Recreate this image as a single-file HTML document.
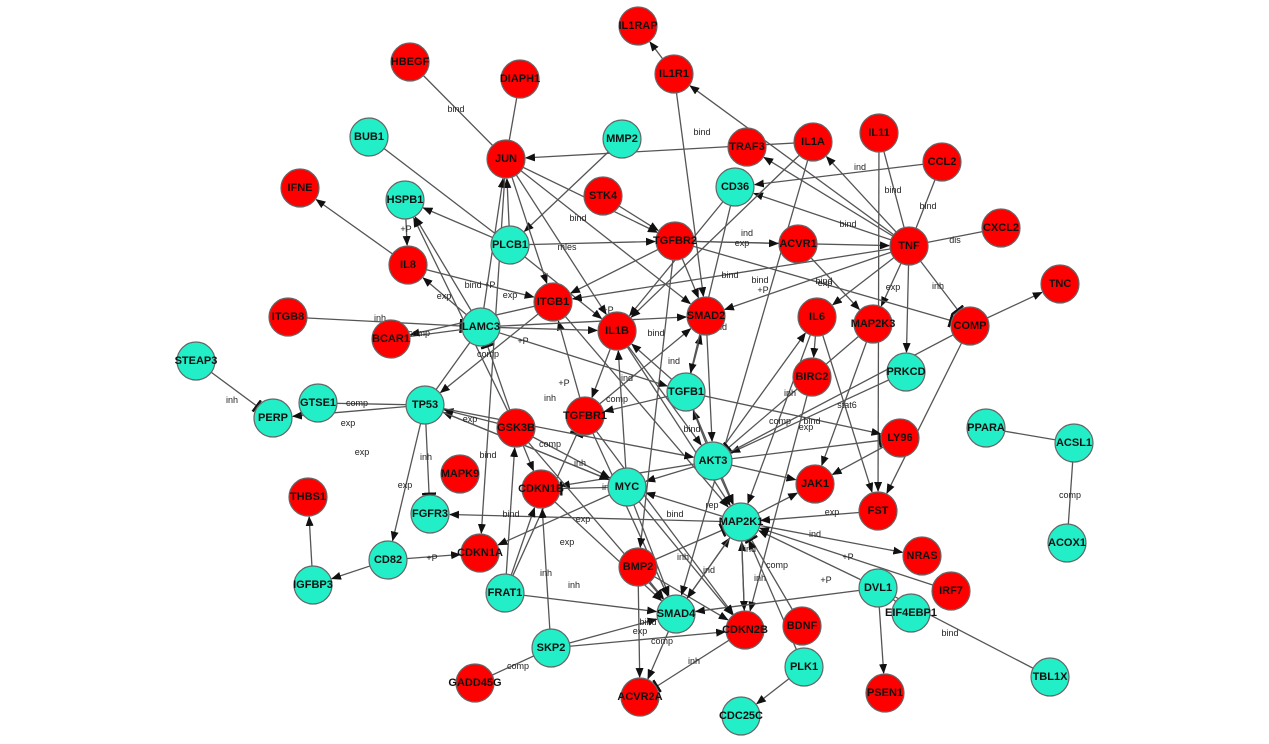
<!DOCTYPE html>
<html><head><meta charset="utf-8"><style>
body{margin:0;background:#fff;width:1269px;height:744px;overflow:hidden}
svg{display:block}
.n text{font:bold 11px "Liberation Sans",sans-serif;fill:#111;text-anchor:middle;dominant-baseline:central}
.r circle{fill:#f00;stroke:#666;stroke-width:1.2}
.c circle{fill:#22eec8;stroke:#666;stroke-width:1.2}
.l{font:9px "Liberation Sans",sans-serif;fill:#222;text-anchor:middle}
#E line{stroke:#555;stroke-width:1.3}
</style></head><body>
<svg id="S" width="1269" height="744" xmlns="http://www.w3.org/2000/svg">
<defs>
<marker id="a" markerWidth="10" markerHeight="8" refX="9" refY="4" orient="auto" markerUnits="userSpaceOnUse"><path d="M0,0L10,4L0,8z" fill="#111"/></marker>
<marker id="t" markerWidth="3" markerHeight="14" refX="1.5" refY="7" orient="auto" markerUnits="userSpaceOnUse"><rect width="2.5" height="14" fill="#111"/></marker>
</defs>
<g id="E"></g>
<g>
<text class="l" x="456" y="112">bind</text><text class="l" x="702" y="135">bind</text>
<text class="l" x="860" y="170">ind</text><text class="l" x="893" y="193">bind</text><text class="l" x="928" y="209">bind</text>
<text class="l" x="848" y="227">bind</text><text class="l" x="955" y="243">dis</text><text class="l" x="938" y="289">inh</text>
<text class="l" x="893" y="290">exp</text><text class="l" x="406" y="232">+P</text><text class="l" x="567" y="250">mles</text>
<text class="l" x="578" y="221">bind</text><text class="l" x="747" y="236">ind</text><text class="l" x="742" y="246">exp</text>
<text class="l" x="730" y="278">bind</text><text class="l" x="760" y="283">bind</text><text class="l" x="763" y="293">+P</text>
<text class="l" x="824" y="284">bind</text><text class="l" x="825" y="286">exp</text><text class="l" x="480" y="288">bind +P</text>
<text class="l" x="444" y="299">exp</text><text class="l" x="510" y="298">exp</text><text class="l" x="380" y="321">inh</text>
<text class="l" x="419" y="336">comp</text><text class="l" x="488" y="357">comp</text><text class="l" x="523" y="344">+P</text>
<text class="l" x="608" y="313">+P</text><text class="l" x="656" y="336">bind</text><text class="l" x="722" y="330">nd</text>
<text class="l" x="674" y="364">ind</text><text class="l" x="564" y="386">+P</text><text class="l" x="550" y="401">inh</text>
<text class="l" x="617" y="402">comp</text><text class="l" x="627" y="381">ind</text><text class="l" x="232" y="403">inh</text>
<text class="l" x="357" y="406">comp</text><text class="l" x="348" y="426">exp</text><text class="l" x="470" y="422">exp</text>
<text class="l" x="362" y="455">exp</text><text class="l" x="426" y="460">inh</text><text class="l" x="405" y="488">exp</text>
<text class="l" x="488" y="458">bind</text><text class="l" x="511" y="428">exp</text><text class="l" x="550" y="447">comp</text>
<text class="l" x="580" y="466">inh</text><text class="l" x="608" y="490">inh</text><text class="l" x="790" y="396">inh</text>
<text class="l" x="780" y="424">comp</text><text class="l" x="812" y="424">bind</text><text class="l" x="806" y="430">exp</text>
<text class="l" x="847" y="408">stat6</text><text class="l" x="692" y="432">bind</text><text class="l" x="675" y="517">bind</text>
<text class="l" x="712" y="508">rep</text><text class="l" x="511" y="517">bind</text><text class="l" x="583" y="522">exp</text>
<text class="l" x="567" y="545">exp</text><text class="l" x="546" y="576">inh</text><text class="l" x="574" y="588">inh</text>
<text class="l" x="683" y="560">inh</text><text class="l" x="709" y="573">ind</text><text class="l" x="750" y="552">ind</text>
<text class="l" x="777" y="568">comp</text><text class="l" x="760" y="581">inh</text><text class="l" x="826" y="583">+P</text>
<text class="l" x="815" y="537">ind</text><text class="l" x="832" y="515">exp</text><text class="l" x="848" y="560">+P</text>
<text class="l" x="432" y="561">+P</text><text class="l" x="648" y="625">bind</text><text class="l" x="640" y="634">exp</text>
<text class="l" x="662" y="644">comp</text><text class="l" x="518" y="669">comp</text><text class="l" x="694" y="664">inh</text>
<text class="l" x="950" y="636">bind</text><text class="l" x="1070" y="498">comp</text>
</g>
<g id="N">
<g class="n r"><circle cx="638" cy="26" r="19"/><text x="638" y="26">IL1RAP</text></g>
<g class="n r"><circle cx="410" cy="62" r="19"/><text x="410" y="62">HBEGF</text></g>
<g class="n r"><circle cx="520" cy="79" r="19"/><text x="520" y="79">DIAPH1</text></g>
<g class="n r"><circle cx="674" cy="74" r="19"/><text x="674" y="74">IL1R1</text></g>
<g class="n r"><circle cx="506" cy="159" r="19"/><text x="506" y="159">JUN</text></g>
<g class="n r"><circle cx="747" cy="147" r="19"/><text x="747" y="147">TRAF3</text></g>
<g class="n r"><circle cx="813" cy="142" r="19"/><text x="813" y="142">IL1A</text></g>
<g class="n r"><circle cx="879" cy="133" r="19"/><text x="879" y="133">IL11</text></g>
<g class="n r"><circle cx="942" cy="162" r="19"/><text x="942" y="162">CCL2</text></g>
<g class="n r"><circle cx="300" cy="188" r="19"/><text x="300" y="188">IFNE</text></g>
<g class="n r"><circle cx="603" cy="196" r="19"/><text x="603" y="196">STK4</text></g>
<g class="n r"><circle cx="675" cy="241" r="19"/><text x="675" y="241">TGFBR2</text></g>
<g class="n r"><circle cx="798" cy="244" r="19"/><text x="798" y="244">ACVR1</text></g>
<g class="n r"><circle cx="909" cy="246" r="19"/><text x="909" y="246">TNF</text></g>
<g class="n r"><circle cx="1001" cy="228" r="19"/><text x="1001" y="228">CXCL2</text></g>
<g class="n r"><circle cx="408" cy="265" r="19"/><text x="408" y="265">IL8</text></g>
<g class="n r"><circle cx="1060" cy="284" r="19"/><text x="1060" y="284">TNC</text></g>
<g class="n r"><circle cx="288" cy="317" r="19"/><text x="288" y="317">ITGB8</text></g>
<g class="n r"><circle cx="553" cy="302" r="19"/><text x="553" y="302">ITGB1</text></g>
<g class="n r"><circle cx="391" cy="339" r="19"/><text x="391" y="339">BCAR1</text></g>
<g class="n r"><circle cx="617" cy="331" r="19"/><text x="617" y="331">IL1B</text></g>
<g class="n r"><circle cx="706" cy="316" r="19"/><text x="706" y="316">SMAD2</text></g>
<g class="n r"><circle cx="817" cy="317" r="19"/><text x="817" y="317">IL6</text></g>
<g class="n r"><circle cx="873" cy="324" r="19"/><text x="873" y="324">MAP2K3</text></g>
<g class="n r"><circle cx="970" cy="326" r="19"/><text x="970" y="326">COMP</text></g>
<g class="n r"><circle cx="812" cy="377" r="19"/><text x="812" y="377">BIRC2</text></g>
<g class="n r"><circle cx="585" cy="416" r="19"/><text x="585" y="416">TGFBR1</text></g>
<g class="n r"><circle cx="516" cy="428" r="19"/><text x="516" y="428">GSK3B</text></g>
<g class="n r"><circle cx="900" cy="438" r="19"/><text x="900" y="438">LY96</text></g>
<g class="n r"><circle cx="460" cy="474" r="19"/><text x="460" y="474">MAPK9</text></g>
<g class="n r"><circle cx="541" cy="489" r="19"/><text x="541" y="489">CDKN1B</text></g>
<g class="n r"><circle cx="815" cy="484" r="19"/><text x="815" y="484">JAK1</text></g>
<g class="n r"><circle cx="878" cy="511" r="19"/><text x="878" y="511">FST</text></g>
<g class="n r"><circle cx="308" cy="497" r="19"/><text x="308" y="497">THBS1</text></g>
<g class="n r"><circle cx="480" cy="553" r="19"/><text x="480" y="553">CDKN1A</text></g>
<g class="n r"><circle cx="638" cy="567" r="19"/><text x="638" y="567">BMP2</text></g>
<g class="n r"><circle cx="922" cy="556" r="19"/><text x="922" y="556">NRAS</text></g>
<g class="n r"><circle cx="951" cy="591" r="19"/><text x="951" y="591">IRF7</text></g>
<g class="n r"><circle cx="745" cy="630" r="19"/><text x="745" y="630">CDKN2B</text></g>
<g class="n r"><circle cx="802" cy="626" r="19"/><text x="802" y="626">BDNF</text></g>
<g class="n r"><circle cx="475" cy="683" r="19"/><text x="475" y="683">GADD45G</text></g>
<g class="n r"><circle cx="640" cy="697" r="19"/><text x="640" y="697">ACVR2A</text></g>
<g class="n r"><circle cx="885" cy="693" r="19"/><text x="885" y="693">PSEN1</text></g>
<g class="n c"><circle cx="369" cy="137" r="19"/><text x="369" y="137">BUB1</text></g>
<g class="n c"><circle cx="622" cy="139" r="19"/><text x="622" y="139">MMP2</text></g>
<g class="n c"><circle cx="735" cy="187" r="19"/><text x="735" y="187">CD36</text></g>
<g class="n c"><circle cx="405" cy="200" r="19"/><text x="405" y="200">HSPB1</text></g>
<g class="n c"><circle cx="510" cy="245" r="19"/><text x="510" y="245">PLCB1</text></g>
<g class="n c"><circle cx="481" cy="327" r="19"/><text x="481" y="327">LAMC3</text></g>
<g class="n c"><circle cx="196" cy="361" r="19"/><text x="196" y="361">STEAP3</text></g>
<g class="n c"><circle cx="906" cy="372" r="19"/><text x="906" y="372">PRKCD</text></g>
<g class="n c"><circle cx="318" cy="403" r="19"/><text x="318" y="403">GTSE1</text></g>
<g class="n c"><circle cx="425" cy="405" r="19"/><text x="425" y="405">TP53</text></g>
<g class="n c"><circle cx="686" cy="392" r="19"/><text x="686" y="392">TGFB1</text></g>
<g class="n c"><circle cx="273" cy="418" r="19"/><text x="273" y="418">PERP</text></g>
<g class="n c"><circle cx="986" cy="428" r="19"/><text x="986" y="428">PPARA</text></g>
<g class="n c"><circle cx="1074" cy="443" r="19"/><text x="1074" y="443">ACSL1</text></g>
<g class="n c"><circle cx="713" cy="461" r="19"/><text x="713" y="461">AKT3</text></g>
<g class="n c"><circle cx="627" cy="487" r="19"/><text x="627" y="487">MYC</text></g>
<g class="n c"><circle cx="430" cy="514" r="19"/><text x="430" y="514">FGFR3</text></g>
<g class="n c"><circle cx="741" cy="522" r="19"/><text x="741" y="522">MAP2K1</text></g>
<g class="n c"><circle cx="1067" cy="543" r="19"/><text x="1067" y="543">ACOX1</text></g>
<g class="n c"><circle cx="388" cy="560" r="19"/><text x="388" y="560">CD82</text></g>
<g class="n c"><circle cx="313" cy="585" r="19"/><text x="313" y="585">IGFBP3</text></g>
<g class="n c"><circle cx="505" cy="593" r="19"/><text x="505" y="593">FRAT1</text></g>
<g class="n c"><circle cx="878" cy="588" r="19"/><text x="878" y="588">DVL1</text></g>
<g class="n c"><circle cx="676" cy="614" r="19"/><text x="676" y="614">SMAD4</text></g>
<g class="n c"><circle cx="551" cy="648" r="19"/><text x="551" y="648">SKP2</text></g>
<g class="n c"><circle cx="911" cy="613" r="19"/><text x="911" y="613">EIF4EBP1</text></g>
<g class="n c"><circle cx="804" cy="667" r="19"/><text x="804" y="667">PLK1</text></g>
<g class="n c"><circle cx="1050" cy="677" r="19"/><text x="1050" y="677">TBL1X</text></g>
<g class="n c"><circle cx="741" cy="716" r="19"/><text x="741" y="716">CDC25C</text></g>
</g>
</svg>
<script>
var P={};document.querySelectorAll('#N g').forEach(function(g){var c=g.querySelector('circle');P[g.textContent.trim()]=[+c.getAttribute('cx'),+c.getAttribute('cy')];});
var E="IL1R1>IL1RAP,DIAPH1-JUN,HBEGF-JUN,BUB1-PLCB1,MMP2>PLCB1,TNF>CD36,TNF>TRAF3,TNF-IL11,TNF-CCL2,TNF-CXCL2,TNF|COMP,COMP>TNC,TNF>IL1A,TNF>PRKCD,TNF>MAP2K3,TNF>IL1R1,CCL2>CD36,IL8>IFNE,HSPB1>IL8,PLCB1>HSPB1,PLCB1>JUN,LAMC3>HSPB1,LAMC3>IL8,LAMC3>JUN,ITGB8|LAMC3,BCAR1-LAMC3,TP53-LAMC3,TP53>PERP,TP53>CD82,TP53|FGFR3,GTSE1-TP53,STEAP3|PERP,IGFBP3>THBS1,CD82>IGFBP3,CD82>CDKN1A,PPARA-ACSL1,ACSL1-ACOX1,PLK1>CDC25C,SKP2-GADD45G,SKP2>SMAD4,SKP2>CDKN2B,SMAD4>ACVR2A,CDKN2B|ACVR2A,BMP2>ACVR2A,BMP2>CDKN2B,DVL1>PSEN1,DVL1-TBL1X,DVL1-EIF4EBP1,DVL1>MAP2K1,MAP2K1>FGFR3,MAP2K1>NRAS,MAP2K1>JAK1,MAP2K1>MYC,AKT3>MYC,AKT3>CDKN1B,AKT3>JAK1,AKT3|LY96,AKT3>IL6,AKT3>TGFB1,TGFB1>TGFBR1,TGFB1>IL1B,TGFB1>SMAD2,TGFBR2>ITGB1,TGFBR2>SMAD2,TGFBR2>TNF,TGFBR2>ACVR1,TGFBR2|COMP,STK4>TGFBR2,JUN>TGFBR2,JUN>ITGB1,JUN>SMAD2,IL1A>IL1B,CD36>IL1B,IL1R1>SMAD2,IL6>FST,IL6>BIRC2,COMP>FST,MAP2K3>JAK1,BIRC2>CDKN2B,LY96>JAK1,GSK3B>TP53,GSK3B>CDKN1B,GSK3B>MYC,GSK3B|LAMC3,GSK3B>HSPB1,FRAT1>GSK3B,FRAT1>SMAD4,FRAT1|TGFBR1,MYC>CDKN1A,MYC|CDKN1B,MYC>CDKN2B,MYC>TP53,MYC>SMAD4,MYC>IL1B,TGFBR1>SMAD4,TGFBR1>SMAD2,TGFBR1>ITGB1,IRF7>MAP2K1,BDNF|MAP2K1,PLK1>MAP2K1,FST>MAP2K1,CDKN2B>MAP2K1,SMAD4>MAP2K1,JUN>IL1B,PLCB1>IL1B,PLCB1>TGFBR2,IL1A>JUN,TNF>SMAD2,TNF>IL6,IL11>FST,ITGB1>TP53,ITGB1>MAP2K1,LAMC3>IL1B,LAMC3>TGFB1,TP53>AKT3,TP53>MYC,IL1B>MAP2K1,IL1B>AKT3,SMAD2>AKT3,ACVR1>MAP2K3,IL6>MAP2K1,TGFB1>MAP2K1,TGFB1>LY96,AKT3>MAP2K1,MAP2K1>CDKN2B,BMP2>SMAD4,BMP2|MAP2K1,CDKN1B>SMAD4,FRAT1>CDKN1B,SKP2>CDKN1B,MAP2K1>SMAD4,DVL1>SMAD4,PRKCD>AKT3,TNF>ITGB1,CD36>TGFB1,IL1A>SMAD4,JUN>CDKN1A,GSK3B>SMAD4,LAMC3>SMAD2,TGFBR2>BMP2,IL8>ITGB1,TGFBR1>CDKN2B,MAP2K3|AKT3,ITGB1>BCAR1,IL1B>TGFBR1,COMP-AKT3";
var g=document.getElementById('E'),ns='http://www.w3.org/2000/svg';
E.split(',').forEach(function(e){var m=e.match(/^(.+?)([>|\-])(.+)$/);var a=P[m[1]],b=P[m[3]];if(!a||!b)return;var dx=b[0]-a[0],dy=b[1]-a[1],d=Math.hypot(dx,dy),ux=dx/d,uy=dy/d;var r=m[2]=='-'?0:20;var l=document.createElementNS(ns,'line');l.setAttribute('x1',a[0]);l.setAttribute('y1',a[1]);l.setAttribute('x2',b[0]-ux*r);l.setAttribute('y2',b[1]-uy*r);if(m[2]=='>')l.setAttribute('marker-end','url(#a)');if(m[2]=='|')l.setAttribute('marker-end','url(#t)');g.appendChild(l);});
</script>
</body></html>
